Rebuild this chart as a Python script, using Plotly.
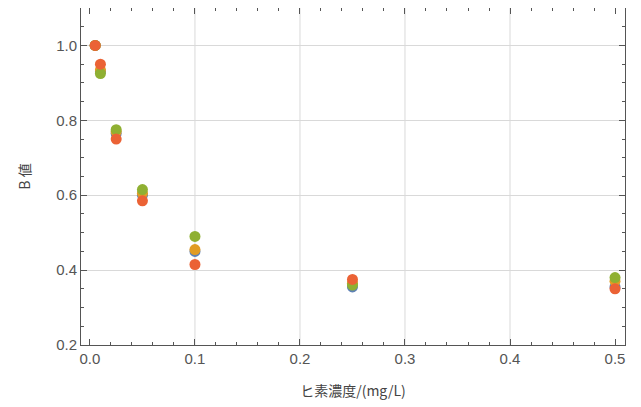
import plotly.graph_objects as go

x_vals = [0.005, 0.01, 0.025, 0.05, 0.1, 0.25, 0.5]
blue = [1.0, 0.93, 0.765, 0.60, 0.45, 0.355, 0.355]
orange = [1.0, 0.935, 0.77, 0.605, 0.455, 0.365, 0.37]
green = [1.0, 0.925, 0.775, 0.615, 0.49, 0.36, 0.38]
red = [1.0, 0.95, 0.75, 0.585, 0.415, 0.375, 0.35]
series = [("blue", blue, "#5E81B5"), ("orange", orange, "#E19C24"),
          ("green", green, "#8FB032"), ("red", red, "#EB6235")]
x_ticks = [0.0, 0.1, 0.2, 0.3, 0.4, 0.5]
y_ticks = [0.2, 0.4, 0.6, 0.8, 1.0]
x_grid = [0.1, 0.2, 0.3, 0.4]

fig = go.Figure()
for name, ys, col in series:
    fig.add_trace(go.Scatter(x=x_vals, y=ys, mode="markers", name=name,
                             marker=dict(color=col, size=11, line=dict(width=0))))

for gx in x_grid:
    fig.add_shape(type="line", xref="x", yref="paper", x0=gx, x1=gx, y0=0, y1=1,
                  line=dict(color="#d9d9d9", width=1), layer="below")

font = "Noto Sans CJK JP, Liberation Sans, sans-serif"
tickfont = dict(family="Liberation Sans, Arial, sans-serif", size=15, color="#555")
fig.update_layout(
    width=641, height=407, showlegend=False,
    margin=dict(l=73, r=24, t=0, b=70, autoexpand=False),
    plot_bgcolor="white", paper_bgcolor="white",
    font=dict(family=font, color="#555", size=15),
    xaxis=dict(range=[-0.0085, 0.5095], tickvals=x_ticks, ticktext=["0.0", "0.1", "0.2", "0.3", "0.4", "0.5"],
               tickfont=tickfont,
               showgrid=False, zeroline=False, showline=True, linecolor="#555", linewidth=1,
               mirror="allticks", ticks="inside", ticklen=6, tickcolor="#555",
               minor=dict(dtick=0.02, ticks="inside", ticklen=3, tickcolor="#555", showgrid=False),
               title=dict(text="ヒ素濃度/(mg/L)", font=dict(size=14, color="#444"), standoff=20)),
    yaxis=dict(range=[0.2, 1.1], tickvals=y_ticks, ticktext=["0.2", "0.4", "0.6", "0.8", "1.0"],
               tickfont=tickfont,
               showgrid=True, gridcolor="#d9d9d9", gridwidth=1, zeroline=False,
               showline=True, linecolor="#555", linewidth=1,
               mirror="allticks", ticks="inside", ticklen=6, tickcolor="#555",
               minor=dict(dtick=0.05, ticks="inside", ticklen=3, tickcolor="#555", showgrid=False),
               title=dict(text="B 値", font=dict(size=14, color="#444"), standoff=22)),
)
fig.write_html("out.html")
